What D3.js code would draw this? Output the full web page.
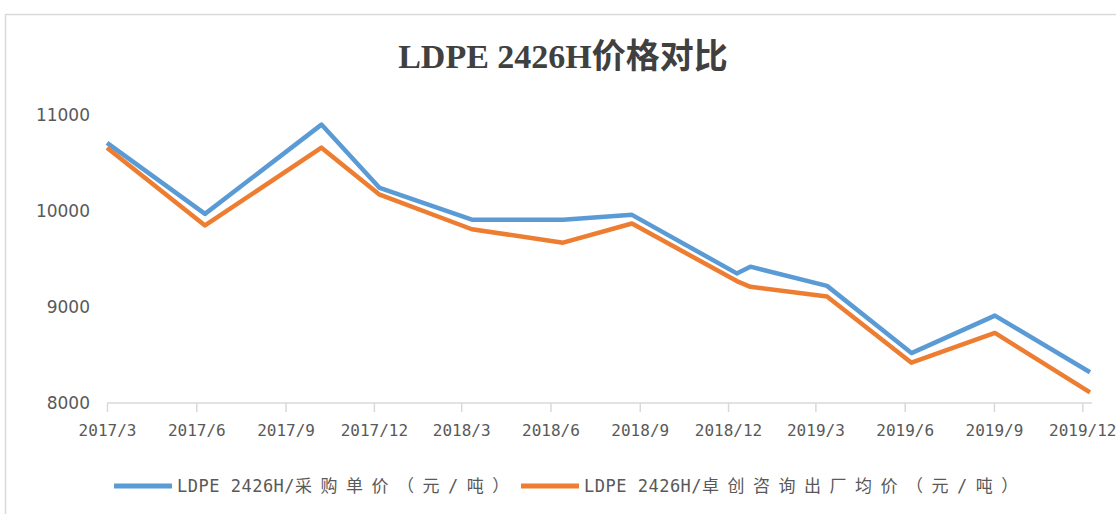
<!DOCTYPE html>
<html>
<head>
<meta charset="utf-8">
<script src="https://cdn.jsdelivr.net/npm/d3@7"></script>
<style>
  body { margin: 0; background: #fff; }
  svg { display: block; }
</style>
</head>
<body>
<svg id="chart" width="1116" height="514"></svg>
<script>
// data
var dates = ["2017-03-01", "2017-06-10", "2017-10-08", "2017-12-07", "2018-03-12", "2018-06-14",
             "2018-08-24", "2018-12-10", "2018-12-24", "2019-03-13", "2019-06-08", "2019-09-02", "2019-12-09"];
var purchase = [10710, 9970, 10900, 10240, 9910, 9910, 9960, 9350, 9420, 9220, 8520, 8910, 8320];
var factory  = [10660, 9850, 10660, 10170, 9810, 9670, 9870, 9270, 9210, 9110, 8420, 8730, 8110];
var tickLabels = ["2017/3", "2017/6", "2017/9", "2017/12", "2018/3", "2018/6",
                  "2018/9", "2018/12", "2019/3", "2019/6", "2019/9", "2019/12"];
var yTicks = [8000, 9000, 10000, 11000];
var seriesNames = ["LDPE 2426H/采购单价（元/吨）", "LDPE 2426H/卓创咨询出厂均价（元/吨）"];
var colors = ["#5B9BD5", "#ED7D31"];

var svg = d3.select("#chart"),
    width = +svg.attr("width"),
    height = +svg.attr("height");

var parse = d3.timeParse("%Y-%m-%d");
var tickParse = d3.timeParse("%Y/%m");

// outer chart frame (cropped on right and bottom)
svg.append("rect")
  .attr("x", 5.5).attr("y", 14.5)
  .attr("width", width + 10).attr("height", height + 10)
  .attr("fill", "none")
  .attr("stroke", "#d9d9d9")
  .attr("stroke-width", 1.5);

var x = d3.scaleTime()
  .domain([parse(dates[0]), parse(dates[dates.length - 1])])
  .range([107, 1090]);

var y = d3.scaleLinear()
  .domain([8000, 11000])
  .range([403, 115]);

// title
svg.append("text")
  .attr("x", 563).attr("y", 68)
  .attr("text-anchor", "middle")
  .style("font-family", "'Liberation Serif', 'Noto Sans CJK SC', serif")
  .style("font-weight", "bold")
  .style("font-size", "34px")
  .style("fill", "#404040")
  .text("LDPE 2426H价格对比");

// x axis
var xAxis = d3.axisBottom(x)
  .tickValues(tickLabels.map(t => tickParse(t)))
  .tickFormat((d, i) => tickLabels[i])
  .tickSize(9)
  .tickSizeOuter(0);

var gx = svg.append("g")
  .attr("transform", "translate(0,403)")
  .call(xAxis);
gx.select(".domain").attr("stroke", "#d9d9d9").attr("stroke-width", 1.5)
  .attr("d", "M" + x.range()[0] + ",0H" + (x.range()[1] + 2));
gx.selectAll(".tick line").attr("stroke", "#d9d9d9").attr("stroke-width", 1.5);
gx.selectAll(".tick text")
  .attr("y", 22)
  .style("font-family", "'DejaVu Sans Mono', 'Liberation Mono', monospace")
  .style("font-size", "16px")
  .style("fill", "#595959");

// y axis labels only
var yAxis = d3.axisLeft(y)
  .tickValues(yTicks)
  .tickFormat(d3.format("d"))
  .tickSize(0)
  .tickPadding(0);
var gy = svg.append("g")
  .attr("transform", "translate(90,0)")
  .call(yAxis);
gy.select(".domain").remove();
gy.selectAll(".tick text")
  .style("font-family", "'DejaVu Sans', sans-serif")
  .style("font-size", "17px")
  .style("fill", "#595959");

// lines
var line = d3.line()
  .x((d, i) => x(parse(dates[i])))
  .y(d => y(d));

[purchase, factory].forEach((vals, k) => {
  svg.append("path")
    .datum(vals)
    .attr("d", line)
    .attr("fill", "none")
    .attr("stroke", colors[k])
    .attr("stroke-width", 4.5)
    .attr("stroke-linejoin", "round");
});

// legend
var legendX = [114, 521];
var legend = svg.append("g");
seriesNames.forEach((name, k) => {
  legend.append("line")
    .attr("x1", legendX[k]).attr("x2", legendX[k] + 58)
    .attr("y1", 486).attr("y2", 486)
    .attr("stroke", colors[k])
    .attr("stroke-width", 5);
  var cut = name.indexOf("/") + 1;
  var t = legend.append("text")
    .attr("x", legendX[k] + 63).attr("y", 492)
    .style("font-family", "'DejaVu Sans Mono', 'Noto Sans CJK SC', monospace")
    .style("font-size", "17px")
    .style("fill", "#595959");
  t.append("tspan").style("letter-spacing", "0.5px").text(name.slice(0, cut));
  t.append("tspan").style("letter-spacing", "8.5px").text(name.slice(cut));
});
</script>
</body>
</html>
